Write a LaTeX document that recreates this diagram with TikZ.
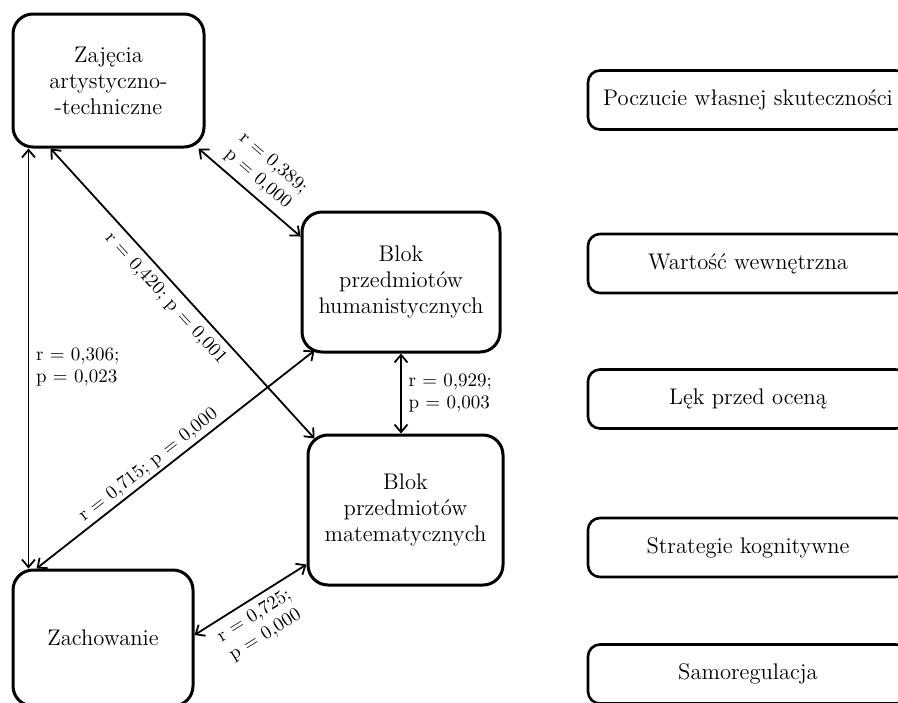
\documentclass[tikz,border=0pt]{standalone}
\usepackage{tikz}
\usetikzlibrary{arrows.meta,calc}

\begin{document}
\begin{tikzpicture}[x=0.5pt,y=0.5pt,>={Straight Barb[length=3.8pt,width=6.5pt]}]
	\tikzstyle{blok}=[draw,line width=1.5pt,rounded corners=10pt,align=center,font=\fontsize{11.3}{13}\selectfont]
	\tikzstyle{cecha}=[draw,line width=1.3pt,rounded corners=6pt,minimum width=160pt,minimum height=29.5pt,font=\fontsize{11.3}{13}\selectfont]
	\tikzstyle{corr}=[line width=0.9pt,<->]
	\tikzstyle{wsp}=[font=\fontsize{9.5}{11}\selectfont,align=left]
	\useasboundingbox (0,0) rectangle (898,-702);
	\clip (0,0) rectangle (898,-702);
	\node [blok,minimum width=95.5pt,minimum height=66.5pt] (zaj) at (108.5,-80.5) {Zajęcia\\artystyczno-\\-techniczne};
	\node [blok,minimum width=99pt,minimum height=70pt] (hum) at (401,-282) {Blok\\przedmiotów\\humanistycznych};
	\node [blok,minimum width=97.5pt,minimum height=75pt] (mat) at (405.5,-510) {Blok\\przedmiotów\\matematycznych};
	\node [blok,minimum width=90pt,minimum height=68pt] (zach) at (103,-638) {Zachowanie};
	\node [cecha] (pws) at (748,-100) {Poczucie własnej skuteczności};
	\node [cecha] (ww) at (748,-263.5) {Wartość wewnętrzna};
	\node [cecha] (lpo) at (748,-399) {Lęk przed oceną};
	\node [cecha] (sk) at (748,-547.5) {Strategie kognitywne};
	\node [cecha] (sam) at (748,-674) {Samoregulacja};
	\draw [corr] ($(zaj.south west)+(17,0)$) -- node [wsp,right,pos=0.52] {r = 0,306;\\p = 0,023} ($(zach.north west)+(17,0)$);
	\draw [corr] ($(zaj.south west)+(39,0)$) -- node [wsp,sloped,below,pos=0.48] {r = 0,420; p = 0,001} ($(mat.north west)+(8,-5)$);
	\draw [corr] ($(zaj.south east)+(-7,0)$) -- node [wsp,sloped,above,pos=0.49] {r = 0,389;\\p = 0,000} ($(hum.north west)+(0,-26)$);
	\draw [corr] ($(zach.north west)+(25,0)$) -- node [wsp,sloped,above,pos=0.43,inner sep=1.5pt] {r = 0,715; p = 0,000} ($(hum.south west)+(14,3)$);
	\draw [corr] (hum.south) -- node [wsp,right] {r = 0,929;\\p = 0,003} (hum.south |- mat.north);
	\draw [corr] ($(zach.east)+(0,3)$) -- node [wsp,sloped,below,pos=0.46] {r = 0,725;\\p = 0,000} ($(mat.south west)+(0,22)$);
\end{tikzpicture}
\end{document}
